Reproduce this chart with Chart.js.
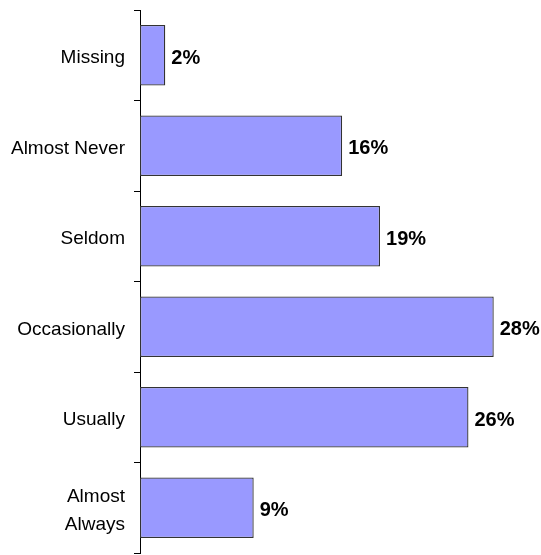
<!DOCTYPE html>
<html>
<head>
<meta charset="utf-8">
<script src="https://cdn.jsdelivr.net/npm/chart.js@4"></script>
<style>
  html, body { margin: 0; padding: 0; background: #fff; }
  #wrap { width: 541px; height: 555px; }
</style>
</head>
<body>
<div id="wrap"><canvas id="chart"></canvas></div>
<script>
// Data
const categories = ['Missing', 'Almost Never', 'Seldom', 'Occasionally', 'Usually', ['Almost', 'Always']];
const percents = [2, 16, 19, 28, 26, 9];

// draw the "NN%" labels just past the end of each bar
const valueLabels = {
  id: 'valueLabels',
  afterDatasetsDraw(chart) {
    const c = chart.ctx;
    const meta = chart.getDatasetMeta(0);
    c.save();
    c.font = 'bold 20px "Liberation Sans", Arial, sans-serif';
    c.fillStyle = '#000';
    c.textBaseline = 'middle';
    c.textAlign = 'left';
    meta.data.forEach((bar, i) => {
      c.fillText(percents[i] + '%', bar.x + 6, bar.y + 3);
    });
    c.restore();
  }
};

new Chart(document.getElementById('chart'), {
  type: 'bar',
  data: {
    labels: categories,
    datasets: [{
      data: percents,
      backgroundColor: '#9999ff',
      borderColor: '#333333',
      borderWidth: 1.3,
      borderSkipped: false,
      barPercentage: 0.67,
      categoryPercentage: 1
    }]
  },
  options: {
    indexAxis: 'y',
    responsive: true,
    maintainAspectRatio: false,
    animation: false,
    layout: { padding: { left: 0, right: 22, top: 10, bottom: 2 } },
    plugins: { legend: { display: false }, tooltip: { enabled: false } },
    scales: {
      x: { display: false, min: 0, max: 30 },
      y: {
        afterFit(scale) {
          scale.width = 140;
          // keep label heights from pushing the plot area in
          scale.paddingTop = 0;
          scale.paddingBottom = 0;
        },
        border: { display: true, color: '#000', width: 1 },
        grid: {
          offset: true,
          drawOnChartArea: false,
          drawTicks: true,
          tickLength: 6,
          color: '#000'
        },
        ticks: {
          color: '#000',
          padding: 9,
          labelOffset: 3,
          font: { family: '"Liberation Sans", Arial, sans-serif', size: 19, lineHeight: 1.5 }
        }
      }
    }
  },
  plugins: [valueLabels]
});
</script>
</body>
</html>
